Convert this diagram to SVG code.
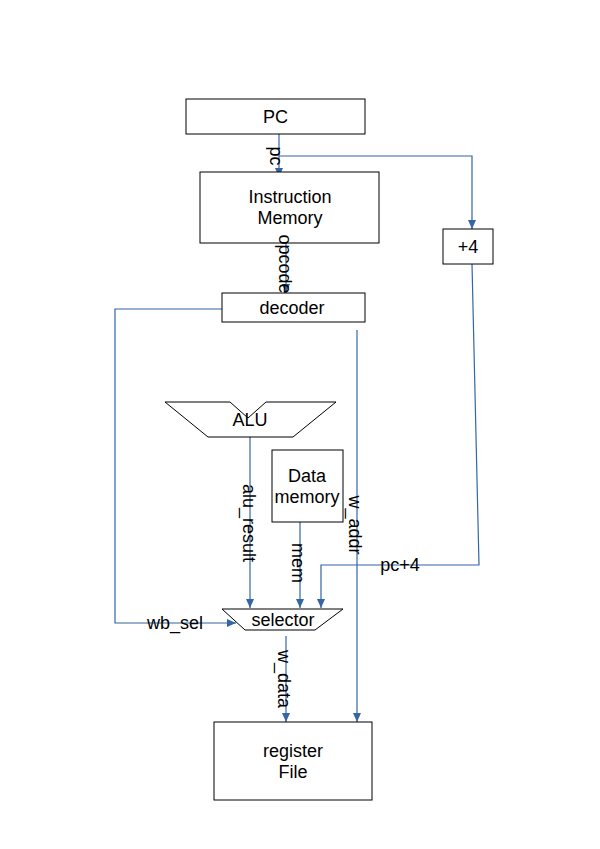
<svg xmlns="http://www.w3.org/2000/svg" width="600" height="849" viewBox="0 0 600 849">
<style>
.box{fill:#fff;stroke:#000;stroke-width:1}
.t{font-family:"Liberation Sans",Arial,sans-serif;font-size:18px;fill:#000;text-anchor:middle;dominant-baseline:central}
.c{fill:none;stroke:#3465a4;stroke-width:1.2}
</style>
<defs>
<marker id="a" markerUnits="userSpaceOnUse" markerWidth="10" markerHeight="10" viewBox="0 0 10 10" refX="9" refY="5" orient="auto">
<path d="M0,1 L9,5 L0,9 Z" fill="#3465a4"/>
</marker>
</defs>
<rect width="600" height="849" fill="#fff"/>
<g id="connectors">
<path class="c" d="M279,134 V177" marker-end="url(#a)"/>
<path class="c" d="M279,156 H472 V229" marker-end="url(#a)"/>
<path class="c" d="M286,243 V293" marker-end="url(#a)"/>
<path class="c" d="M222,309 H115 V623 H236" marker-end="url(#a)"/>
<path class="c" d="M357,330 V722" marker-end="url(#a)"/>
<path class="c" d="M472,264 L479,565 H321 V608" marker-end="url(#a)"/>
<path class="c" d="M250,437 V608" marker-end="url(#a)"/>
<path class="c" d="M300,522 V608" marker-end="url(#a)"/>
<path class="c" d="M286,636 V722" marker-end="url(#a)"/>
</g>
<g id="pc">
<rect class="box" x="186" y="99" width="179" height="35"/>
<text class="t" x="275.5" y="117">PC</text>
</g>
<g id="imem">
<rect class="box" x="200" y="172" width="179" height="71"/>
<text class="t" x="290" y="197">Instruction</text>
<text class="t" x="290" y="218">Memory</text>
</g>
<g id="plus4">
<rect class="box" x="443" y="229" width="50" height="35"/>
<text class="t" x="468" y="247">+4</text>
</g>
<g id="decoder">
<rect class="box" x="222" y="293" width="143" height="29"/>
<text class="t" x="292" y="308">decoder</text>
</g>
<g id="alu">
<path class="box" d="M165,402 H230 L248,418 L266,402 H336 L293,437 H208 Z"/>
<text class="t" x="250" y="420">ALU</text>
</g>
<g id="dmem">
<rect class="box" x="272" y="450" width="71" height="72"/>
<text class="t" x="307" y="476">Data</text>
<text class="t" x="307" y="497">memory</text>
</g>
<g id="selector">
<path class="box" d="M222,609 H343 L315,630 H245 Z"/>
<text class="t" x="283" y="620">selector</text>
</g>
<g id="regfile">
<rect class="box" x="214" y="722" width="158" height="78"/>
<text class="t" x="293" y="751">register</text>
<text class="t" x="293" y="772">File</text>
</g>
<g id="labels">
<text class="t" transform="translate(276,156) rotate(90)">pc</text>
<text class="t" transform="translate(285,264) rotate(90)">opcode</text>
<text class="t" transform="translate(249,523) rotate(90)">alu_result</text>
<text class="t" transform="translate(298,563) rotate(90)">mem</text>
<text class="t" transform="translate(355,525) rotate(90)">w_addr</text>
<text class="t" transform="translate(284,679) rotate(90)">w_data</text>
<text class="t" x="175" y="623">wb_sel</text>
<text class="t" x="400" y="565">pc+4</text>
</g>
</svg>
